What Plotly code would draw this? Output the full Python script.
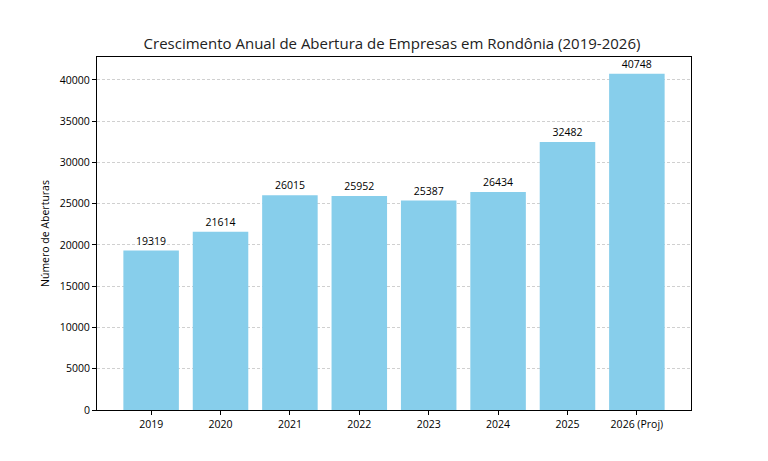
import plotly.graph_objects as go

anos = ['2019', '2020', '2021', '2022', '2023', '2024', '2025', '2026 (Proj)']
aberturas = [19319, 21614, 26015, 25952, 25387, 26434, 32482, 40748]

fig = go.Figure()
fig.add_trace(go.Bar(x=anos, y=aberturas,
                     width=0.8,
                     marker_color='skyblue',
                     marker_line_width=0,
                     text=[str(v) for v in aberturas],
                     textposition='outside',
                     textfont=dict(size=10.5, color='black'),
                     cliponaxis=False))

# page body adds ~8px offset, so margins are shifted to compensate
fig.update_layout(title=dict(text='Crescimento Anual de Abertura de Empresas em Rondônia (2019-2026)',
                             x=0.5, xanchor='center', y=0.922, yanchor='middle',
                             font=dict(size=15, color='#222')),
                  width=768, height=461,
                  margin=dict(l=89, r=85, t=49, b=59),
                  plot_bgcolor='white',
                  paper_bgcolor='white',
                  font=dict(family='Open Sans', size=10.5, color='black'),
                  showlegend=False)

fig.update_xaxes(range=[-0.78, 7.78],
                 showline=True, mirror=True, linecolor='black', linewidth=1,
                 ticks='outside', ticklen=4, tickcolor='black',
                 showgrid=False)

fig.update_yaxes(range=[0, max(aberturas) * 1.05],
                 tickvals=list(range(0, 40001, 5000)),
                 tickformat='d',
                 showline=True, mirror=True, linecolor='black', linewidth=1,
                 ticks='outside', ticklen=4, tickcolor='black',
                 showgrid=True, gridcolor='rgba(176,176,176,0.6)', griddash='3px,2px', gridwidth=0.8,
                 zeroline=False,
                 title=dict(text='Número de Aberturas', standoff=8, font=dict(size=10.5)))

fig.write_html('out.html')
